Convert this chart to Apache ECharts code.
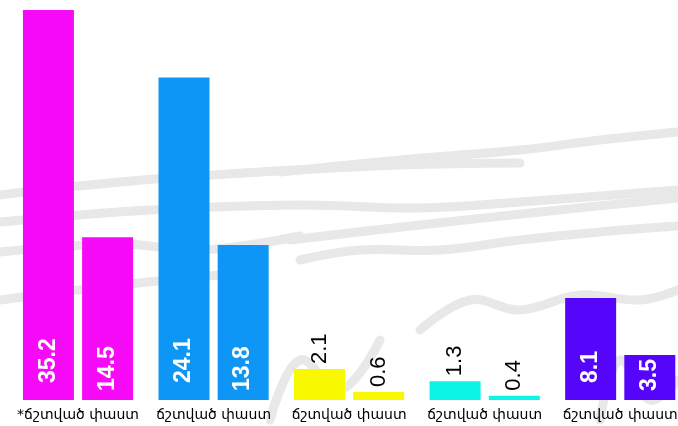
<!DOCTYPE html>
<html>
<head>
<meta charset="utf-8">
<style>
  html, body { margin: 0; padding: 0; background: #ffffff; overflow: hidden; }
  #chart { width: 688px; height: 426px; }
</style>
<script src="https://cdn.jsdelivr.net/npm/echarts@6/dist/echarts.min.js"></script>
</head>
<body>
<div id="chart"></div>
<script>
// categories under each pair of bars
const categories = ['*ճշտված փաստ', 'ճշտված փաստ', 'ճշտված փաստ', 'ճշտված փաստ', 'ճշտված փաստ']

// bar heights (scale: first bar = 35.2)
const firstHeights = [35.2, 29.1, 2.8, 1.7, 9.2]
const secondHeights = [14.7, 14.0, 0.72, 0.39, 4.06]

// numbers printed on the bars
const firstLabels = ['35.2', '24.1', '2.1', '1.3', '8.1']
const secondLabels = ['14.5', '13.8', '0.6', '0.4', '3.5']

const groupColors = ['#f70af7', '#0d96f5', '#f8f800', '#0af5e4', '#5506fa']
const outsideGroups = [2, 3]

const chart = echarts.init(document.getElementById('chart'))

// label inside (white bold) for tall bars, above (black) for small ones
const makeItem = (value, text, i, lift) => {
  const outside = outsideGroups.includes(i)
  return {
    value: value,
    itemStyle: { color: groupColors[i] },
    label: outside ? {
      show: true,
      position: 'top',
      distance: 5,
      rotate: 90,
      align: 'left',
      verticalAlign: 'middle',
      color: '#000',
      fontSize: 22,
      fontFamily: 'Liberation Sans, Arial, sans-serif',
      formatter: () => text
    } : {
      show: true,
      // fixed spot near the bar foot, offset is in the rotated frame
      position: ['50%', '100%'],
      offset: [lift, 0],
      rotate: 90,
      align: 'left',
      verticalAlign: 'middle',
      color: '#fff',
      fontSize: 23,
      fontWeight: 'bold',
      fontFamily: 'Liberation Sans, Arial, sans-serif',
      formatter: () => text
    }
  }
}

// light grey brush strokes in the background
const strokes = [
  [[280, 172], [400, 160], [520, 150], [600, 140], [678, 132]],
  [[0, 195], [120, 182], [260, 172], [400, 165], [520, 163]],
  [[0, 222], [150, 210], [300, 205], [420, 208], [520, 202], [678, 190]],
  [[0, 252], [120, 244], [200, 250], [300, 236]],
  [[290, 240], [420, 225], [540, 212], [678, 198]],
  [[300, 260], [360, 250], [440, 250], [520, 240], [600, 232], [678, 226]],
  [[0, 300], [120, 285], [220, 275]],
  [[420, 330], [470, 300], [520, 310], [580, 295], [640, 300], [678, 290]],
  [[270, 420], [300, 360], [340, 390], [380, 340]],
  [[600, 420], [620, 360], [650, 400], [678, 380]]
]

const option = {
  backgroundColor: '#ffffff',
  animation: false,
  graphic: strokes.map(pts => ({
    type: 'polyline',
    z: -10,
    silent: true,
    shape: { points: pts, smooth: 0.4 },
    style: { stroke: '#e8e8e8', lineWidth: 9, fill: null, lineCap: 'round' }
  })),
  grid: {
    top: 10,
    bottom: 26,
    left: 10.25,
    right: 0,
    containLabel: false
  },
  xAxis: {
    type: 'category',
    data: categories,
    axisLine: { show: false },
    axisTick: { show: false },
    axisLabel: {
      margin: 8,
      color: '#000',
      fontSize: 14,
      fontFamily: 'DejaVu Sans, sans-serif',
      interval: 0
    }
  },
  yAxis: {
    type: 'value',
    min: 0,
    max: 35.2,
    show: false
  },
  series: [
    {
      type: 'bar',
      barWidth: 51,
      barGap: '16%',
      data: firstHeights.map((v, i) => makeItem(v, firstLabels[i], i, 17))
    },
    {
      type: 'bar',
      barWidth: 51,
      data: secondHeights.map((v, i) => makeItem(v, secondLabels[i], i, 9))
    }
  ]
}

chart.setOption(option)
</script>
</body>
</html>
